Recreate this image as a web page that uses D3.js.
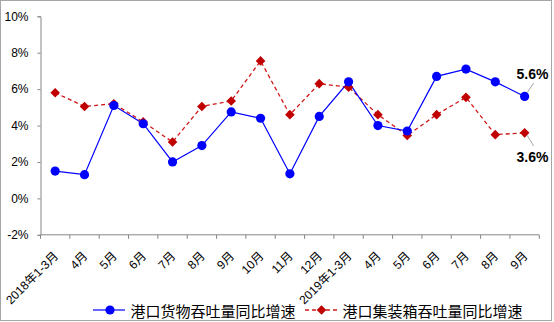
<!DOCTYPE html>
<html><head><meta charset="utf-8">
<script src="https://cdn.jsdelivr.net/npm/d3@7"></script>
<style>
body{margin:0;background:#fff;}
svg{display:block;font-family:"Liberation Sans",Arial,"Noto Sans CJK SC",sans-serif;}
</style></head>
<body><svg id="c" width="554" height="322"></svg>
<script>
const categories = ["2018年1-3月","4月","5月","6月","7月","8月","9月","10月","11月","12月","2019年1-3月","4月","5月","6月","7月","8月","9月"];
const cargoGrowth = [1.5,1.3,5.1,4.1,2.0,2.9,4.75,4.4,1.35,4.5,6.4,4.0,3.7,6.7,7.1,6.4,5.6];
const containerGrowth = [5.8,5.05,5.2,4.2,3.1,5.05,5.35,7.55,4.6,6.3,6.1,4.6,3.45,4.6,5.55,3.5,3.6];
const yTicks = [-2,0,2,4,6,8,10];
const seriesNames = ["港口货物吞吐量同比增速","港口集装箱吞吐量同比增速"];
const endLabels = ["5.6%","3.6%"];

const svg = d3.select("#c");
svg.append("rect").attr("x",0.5).attr("y",0.5).attr("width",551).attr("height",320)
  .attr("fill","#fff").attr("stroke","#a6a6a6");

const x0 = 40.5, x1 = 539.3, yTop = 16.3, yBot = 234.8;
const xBand = d3.scaleBand().domain(d3.range(categories.length)).range([x0,x1]).padding(0);
const xc = i => xBand(i) + xBand.bandwidth()/2;
const y = d3.scaleLinear().domain([-2,10]).range([yBot,yTop]);

// y axis
const yAxis = d3.axisLeft(y).tickValues(yTicks).tickSize(3).tickFormat(d=>d+"%");
const gy = svg.append("g").attr("transform",`translate(${x0},0)`).call(yAxis);
gy.select(".domain").attr("stroke","#868686");
gy.selectAll(".tick line").attr("stroke","#868686");
gy.selectAll(".tick text").attr("x",-12).attr("font-size","12px").attr("fill","#000")
  .attr("font-family","'Liberation Sans',Arial,sans-serif");

// x axis
const gx = svg.append("g").attr("transform",`translate(0,${yBot})`);
gx.append("line").attr("x1",x0).attr("x2",x1).attr("stroke","#868686");
const bounds = d3.range(categories.length+1).map(i => i<categories.length ? xBand(i) : x1);
gx.selectAll("line.t").data(bounds).join("line").attr("class","t")
  .attr("x1",d=>d).attr("x2",d=>d).attr("y1",0).attr("y2",4).attr("stroke","#868686");
gx.selectAll("text").data(categories).join("text")
  .attr("transform",(d,i)=>`translate(${xc(i)+1},${254-yBot}) rotate(-45)`)
  .attr("text-anchor","end").attr("dominant-baseline","central")
  .attr("font-size","12px").attr("fill","#000").text(d=>d);

// lines
const line = arr => d3.line().x((d,i)=>xc(i)).y(d=>y(d))(arr);
svg.append("path").attr("d",line(containerGrowth)).attr("fill","none")
  .attr("stroke","#d01818").attr("stroke-width",1.3).attr("stroke-dasharray","4,3");
svg.append("path").attr("d",line(cargoGrowth)).attr("fill","none")
  .attr("stroke","#0000ff").attr("stroke-width",1.2);

const diamond = (cx,cy,r) => `M${cx},${cy-r}L${cx+r},${cy}L${cx},${cy+r}L${cx-r},${cy}Z`;
svg.selectAll("path.dm").data(containerGrowth).join("path").attr("class","dm")
  .attr("d",(d,i)=>diamond(xc(i),y(d),4.8)).attr("fill","#c00000");
svg.selectAll("circle.cg").data(cargoGrowth).join("circle").attr("class","cg")
  .attr("cx",(d,i)=>xc(i)).attr("cy",d=>y(d)).attr("r",4.6).attr("fill","#0000ff");

// end labels
const last = categories.length-1;
const lx = xc(last);
svg.append("line").attr("x1",lx+2.5).attr("y1",y(cargoGrowth[last])-3.5).attr("x2",lx+9).attr("y2",83)
  .attr("stroke","#a6a6a6");
svg.append("line").attr("x1",lx+2.5).attr("y1",y(containerGrowth[last])+2.5).attr("x2",lx+9).attr("y2",146)
  .attr("stroke","#a6a6a6");
svg.append("text").attr("x",516.5).attr("y",79).attr("font-size","14px").attr("font-weight","bold")
  .attr("fill","#000").text(endLabels[0]);
svg.append("text").attr("x",516.5).attr("y",162).attr("font-size","14px").attr("font-weight","bold")
  .attr("fill","#000").text(endLabels[1]);

// legend
const ly = 310;
const lg = svg.append("g").attr("font-family","'Noto Sans CJK SC',sans-serif").attr("font-size","15px");
lg.append("line").attr("x1",93).attr("x2",125).attr("y1",ly).attr("y2",ly).attr("stroke","#0000ff").attr("stroke-width",1.2);
lg.append("circle").attr("cx",110).attr("cy",ly).attr("r",4.6).attr("fill","#0000ff");
lg.append("text").attr("x",130.5).attr("y",ly).attr("dominant-baseline","central").attr("fill","#000").text(seriesNames[0]);
lg.append("line").attr("x1",305).attr("x2",337).attr("y1",ly).attr("y2",ly).attr("stroke","#d01818").attr("stroke-width",1.3).attr("stroke-dasharray","4,3");
lg.append("path").attr("d",diamond(321.5,ly,4.8)).attr("fill","#c00000");
lg.append("text").attr("x",342.5).attr("y",ly).attr("dominant-baseline","central").attr("fill","#000").text(seriesNames[1]);
</script></body></html>
